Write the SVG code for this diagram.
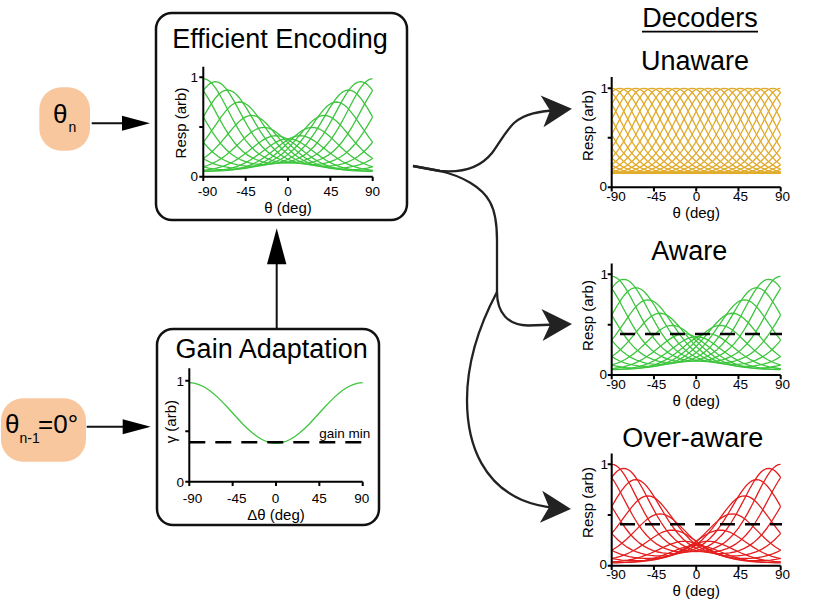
<svg xmlns="http://www.w3.org/2000/svg" width="817" height="601" viewBox="0 0 817 601">
<style>
text { font-family: "Liberation Sans", Arial, Helvetica, sans-serif; fill: #000; }
.title { font-size: 27px; text-anchor: middle; }
.tick { font-size: 13.5px; text-anchor: middle; }
.ytick { font-size: 13.5px; text-anchor: end; }
.alab { font-size: 15px; text-anchor: middle; }
.box { fill: #fff; stroke: #111; stroke-width: 2.5; }
.inp { fill: #f9c79e; }
.axis { fill: none; stroke: #000; stroke-width: 2; }
.dash { fill: none; stroke: #000; stroke-width: 2.5; stroke-dasharray: 15 10; }
.conn { fill: none; stroke: #222; stroke-width: 2.3; marker-end: url(#ah); }
.arr { fill: none; stroke: #111; stroke-width: 2; }
.green { stroke: #3dc53d; }
.gold { stroke: #e1aa28; }
.red { stroke: #e41e1e; }
</style>
<defs>
<path id="tc" fill="none" stroke-width="1.3" stroke-linejoin="round" vector-effect="non-scaling-stroke" d="M-180,-100 L-177.5,-99.6 -175,-98.5 -172.5,-96.7 -170,-94.2 -167.5,-91.1 -165,-87.5 -160,-79.3 -155,-70.1 -150,-60.9 -145,-52.1 -140,-44.1 -135,-37.1 -130,-31.3 -125,-26.5 -120,-22.7 -115,-19.8 -110,-17.6 -105,-15.9 -100,-14.8 -95,-14.2 -90,-14 -85,-14.2 -80,-14.8 -75,-15.9 -70,-17.6 -65,-19.8 -60,-22.7 -55,-26.5 -50,-31.3 -45,-37.1 -40,-44.1 -35,-52.1 -30,-60.9 -25,-70.1 -20,-79.3 -15,-87.5 -12.5,-91.1 -10,-94.2 -7.5,-96.7 -5,-98.5 -2.5,-99.6 0,-100 2.5,-99.6 5,-98.5 7.5,-96.7 10,-94.2 12.5,-91.1 15,-87.5 20,-79.3 25,-70.1 30,-60.9 35,-52.1 40,-44.1 45,-37.1 50,-31.3 55,-26.5 60,-22.7 65,-19.8 70,-17.6 75,-15.9 80,-14.8 85,-14.2 90,-14 95,-14.2 100,-14.8 105,-15.9 110,-17.6 115,-19.8 120,-22.7 125,-26.5 130,-31.3 135,-37.1 140,-44.1 145,-52.1 150,-60.9 155,-70.1 160,-79.3 165,-87.5 167.5,-91.1 170,-94.2 172.5,-96.7 175,-98.5 177.5,-99.6 180,-100"/>
<g id="aware-set">
<use href="#tc" transform="translate(-90,0) scale(1,0.98)"/>
<use href="#tc" transform="translate(-77.14,0) scale(1,0.95)"/>
<use href="#tc" transform="translate(-64.29,0) scale(1,0.867)"/>
<use href="#tc" transform="translate(-51.43,0) scale(1,0.747)"/>
<use href="#tc" transform="translate(-38.57,0) scale(1,0.613)"/>
<use href="#tc" transform="translate(-25.71,0) scale(1,0.493)"/>
<use href="#tc" transform="translate(-12.86,0) scale(1,0.41)"/>
<use href="#tc" transform="translate(0,0) scale(1,0.38)"/>
<use href="#tc" transform="translate(12.86,0) scale(1,0.41)"/>
<use href="#tc" transform="translate(25.71,0) scale(1,0.493)"/>
<use href="#tc" transform="translate(38.57,0) scale(1,0.613)"/>
<use href="#tc" transform="translate(51.43,0) scale(1,0.747)"/>
<use href="#tc" transform="translate(64.29,0) scale(1,0.867)"/>
<use href="#tc" transform="translate(77.14,0) scale(1,0.95)"/>
</g>
<clipPath id="cEE"><rect x="203.3" y="55" width="169.4" height="121.7"/></clipPath>
<clipPath id="cUn"><rect x="611.7" y="70" width="169" height="117.3"/></clipPath>
<clipPath id="cAw"><rect x="611.7" y="255" width="169" height="120"/></clipPath>
<clipPath id="cOv"><rect x="611.7" y="445" width="169" height="120.7"/></clipPath>
<marker id="ah" markerUnits="userSpaceOnUse" viewBox="-32 -20 40 40" markerWidth="40" markerHeight="40" refX="-15" refY="0" orient="auto" overflow="visible">
<path d="M0,0 L-30,-16 L-22,0 L-30,16 Z" fill="#222"/>
</marker>
<marker id="ah2" markerUnits="userSpaceOnUse" viewBox="-30 -10 40 20" markerWidth="40" markerHeight="20" refX="-20" refY="0" orient="auto" overflow="visible">
<path d="M0,0 L-28,-7.5 L-28,7.5 Z" fill="#000"/>
</marker>
<marker id="ah3" markerUnits="userSpaceOnUse" viewBox="-40 -12 50 24" markerWidth="50" markerHeight="24" refX="-25" refY="0" orient="auto" overflow="visible">
<path d="M0,0 L-36,-9.7 L-36,9.7 Z" fill="#000"/>
</marker>
</defs>
<rect width="817" height="601" fill="#fff"/>

<g id="connectors">
<path class="arr" d="M91.7,123.3 H130" marker-end="url(#ah2)"/>
<path class="arr" d="M86.7,426.7 H130.7" marker-end="url(#ah2)"/>
<path class="arr" d="M276.7,329 V253.3" marker-end="url(#ah3)"/>
<path class="conn" d="M413,166 L440,171 C462,173 480,168 492,153 C500,142 505,132 514,123 C525,113 540,111.5 557,110"/>
<path class="conn" d="M413,166 L440,171 C462,176 482,187 490,202 C496,213 497,225 497,240 L497,292 C497,313 508,325 528,325.5 L557,324.5"/>
<path class="conn" d="M497,292 C481,322 467,358 467,400 C467,450 487,485 522,500 C534,505 545,507 556,507.8"/>
</g>

<g id="node-theta-n">
<rect class="inp" x="39.3" y="87.3" width="50.7" height="63.4" rx="22"/>
<text x="53" y="123.3" font-size="26">θ</text>
<text x="68.5" y="131.5" font-size="14">n</text>
</g>

<g id="node-theta-n-1">
<rect class="inp" x="1" y="398.3" width="85" height="63.4" rx="22"/>
<text x="5" y="433.3" font-size="26">θ</text>
<text x="19.5" y="443.3" font-size="14">n-1</text>
<text x="38" y="433.3" font-size="26">=0°</text>
</g>

<g id="node-efficient-encoding">
<rect class="box" x="156" y="13" width="251" height="207" rx="16"/>
<text class="title" x="280" y="48.3">Efficient Encoding</text>
<g clip-path="url(#cEE)"><g class="green" transform="translate(288,176.7) scale(0.9411,1)"><use href="#aware-set"/></g></g>
<path class="axis" d="M203.3,66.7 V176.7 H372.7 M199.3,77.3 H203.3 M199.3,127 H203.3 M199.3,176.7 H203.3 M203.3,176.7 V181 M245.7,176.7 V181 M288,176.7 V181 M330.4,176.7 V181 M372.7,176.7 V181"/>
<text class="ytick" x="198" y="82">1</text>
<text class="ytick" x="198" y="181">0</text>
<text class="tick" x="207.5" y="195.5">-90</text>
<text class="tick" x="246" y="195.5">-45</text>
<text class="tick" x="288" y="195.5">0</text>
<text class="tick" x="331" y="195.5">45</text>
<text class="tick" x="372.5" y="195.5">90</text>
<text class="alab" x="288" y="212.5">θ (deg)</text>
<text class="alab" transform="translate(185.5,123) rotate(-90)">Resp (arb)</text>
</g>

<g id="node-gain-adaptation">
<rect class="box" x="157" y="329" width="222" height="196" rx="16"/>
<text class="title" x="271.7" y="358.3">Gain Adaptation</text>
<path class="green" fill="none" stroke-width="1.3" vector-effect="non-scaling-stroke" transform="translate(276,481.7) scale(0.9633,1.01)" d="M-90,-98 L-85,-97.5 -80,-96.2 -75,-94 -70,-91 -65,-87.3 -60,-83 -55,-78.3 -50,-73.2 -45,-68 -40,-62.8 -35,-57.7 -30,-53 -25,-48.7 -20,-45 -15,-42 -10,-39.8 -5,-38.5 0,-38 5,-38.5 10,-39.8 15,-42 20,-45 25,-48.7 30,-53 35,-57.7 40,-62.8 45,-68 50,-73.2 55,-78.3 60,-83 65,-87.3 70,-91 75,-94 80,-96.2 85,-97.5 90,-98"/>
<path class="dash" d="M189.3,442.3 H363" style="stroke-dasharray:16 10"/>
<text x="319.3" y="438.3" font-size="13.5">gain min</text>
<path class="axis" d="M189.3,368.3 V481.7 H362.7 M185.3,380.7 H189.3 M185.3,431.2 H189.3 M185.3,481.7 H189.3 M189.3,481.7 V486 M232.65,481.7 V486 M276,481.7 V486 M319.35,481.7 V486 M362.7,481.7 V486"/>
<text class="ytick" x="184" y="385.5">1</text>
<text class="ytick" x="184" y="486.5">0</text>
<text class="tick" x="192.5" y="502.5">-90</text>
<text class="tick" x="236.7" y="502.5">-45</text>
<text class="tick" x="275.5" y="502.5">0</text>
<text class="tick" x="319.2" y="502.5">45</text>
<text class="tick" x="361.7" y="502.5">90</text>
<text class="alab" x="276" y="519.5">Δθ (deg)</text>
<text class="alab" transform="translate(175.5,421.7) rotate(-90)">γ (arb)</text>
</g>

<g id="node-decoders-heading">
<text class="title" x="700" y="27">Decoders</text>
<path d="M642,31.7 H758" stroke="#000" stroke-width="1.8"/>
</g>

<g id="node-unaware">
<text class="title" x="695" y="70">Unaware</text>
<g clip-path="url(#cUn)"><g class="gold" transform="translate(696.2,187.3) scale(0.9389,0.99)">
<use href="#tc" transform="translate(-90,0)"/>
<use href="#tc" transform="translate(-81.43,0)"/>
<use href="#tc" transform="translate(-72.86,0)"/>
<use href="#tc" transform="translate(-64.29,0)"/>
<use href="#tc" transform="translate(-55.71,0)"/>
<use href="#tc" transform="translate(-47.14,0)"/>
<use href="#tc" transform="translate(-38.57,0)"/>
<use href="#tc" transform="translate(-30,0)"/>
<use href="#tc" transform="translate(-21.43,0)"/>
<use href="#tc" transform="translate(-12.86,0)"/>
<use href="#tc" transform="translate(-4.29,0)"/>
<use href="#tc" transform="translate(4.29,0)"/>
<use href="#tc" transform="translate(12.86,0)"/>
<use href="#tc" transform="translate(21.43,0)"/>
<use href="#tc" transform="translate(30,0)"/>
<use href="#tc" transform="translate(38.57,0)"/>
<use href="#tc" transform="translate(47.14,0)"/>
<use href="#tc" transform="translate(55.71,0)"/>
<use href="#tc" transform="translate(64.29,0)"/>
<use href="#tc" transform="translate(72.86,0)"/>
<use href="#tc" transform="translate(81.43,0)"/>
</g></g>
<path class="axis" d="M611.7,77 V187.3 H780.7 M607.7,88.3 H611.7 M607.7,137.8 H611.7 M607.7,187.3 H611.7 M611.7,187.3 V191.5 M653.95,187.3 V191.5 M696.2,187.3 V191.5 M738.45,187.3 V191.5 M780.7,187.3 V191.5"/>
<text class="ytick" x="608" y="93.3">1</text>
<text class="ytick" x="607" y="190.5">0</text>
<text class="tick" x="616" y="200.5">-90</text>
<text class="tick" x="656.5" y="200.5">-45</text>
<text class="tick" x="696.5" y="200.5">0</text>
<text class="tick" x="740.5" y="200.5">45</text>
<text class="tick" x="782.5" y="200.5">90</text>
<text class="alab" x="696.2" y="217.5">θ (deg)</text>
<text class="alab" transform="translate(592.5,125.5) rotate(-90)">Resp (arb)</text>
</g>

<g id="node-aware">
<text class="title" x="689.2" y="260">Aware</text>
<g clip-path="url(#cAw)"><g class="green" transform="translate(696.2,375) scale(0.9389,1.007)"><use href="#aware-set"/></g></g>
<path class="dash" d="M620,334 H782"/>
<path class="axis" d="M611.7,263.5 V375 H780.7 M607.7,274.3 H611.7 M607.7,324.65 H611.7 M607.7,375 H611.7 M611.7,375 V379.2 M653.95,375 V379.2 M696.2,375 V379.2 M738.45,375 V379.2 M780.7,375 V379.2"/>
<text class="ytick" x="608" y="279.3">1</text>
<text class="ytick" x="607" y="378.5">0</text>
<text class="tick" x="616" y="388.5">-90</text>
<text class="tick" x="656.5" y="388.5">-45</text>
<text class="tick" x="696.5" y="388.5">0</text>
<text class="tick" x="740.5" y="388.5">45</text>
<text class="tick" x="782.5" y="388.5">90</text>
<text class="alab" x="696.2" y="405.5">θ (deg)</text>
<text class="alab" transform="translate(592.5,315.5) rotate(-90)">Resp (arb)</text>
</g>

<g id="node-over-aware">
<text class="title" x="692.8" y="446.7">Over-aware</text>
<g clip-path="url(#cOv)"><g class="red" transform="translate(696.2,565.7) scale(0.9389,1.014)">
<use href="#tc" transform="translate(-90,0) scale(1,1)"/>
<use href="#tc" transform="translate(-77.14,0) scale(1,0.96)"/>
<use href="#tc" transform="translate(-64.29,0) scale(1,0.849)"/>
<use href="#tc" transform="translate(-51.43,0) scale(1,0.689)"/>
<use href="#tc" transform="translate(-38.57,0) scale(1,0.511)"/>
<use href="#tc" transform="translate(-25.71,0) scale(1,0.351)"/>
<use href="#tc" transform="translate(-12.86,0) scale(1,0.24)"/>
<use href="#tc" transform="translate(0,0) scale(1,0.2)"/>
<use href="#tc" transform="translate(12.86,0) scale(1,0.24)"/>
<use href="#tc" transform="translate(25.71,0) scale(1,0.351)"/>
<use href="#tc" transform="translate(38.57,0) scale(1,0.511)"/>
<use href="#tc" transform="translate(51.43,0) scale(1,0.689)"/>
<use href="#tc" transform="translate(64.29,0) scale(1,0.849)"/>
<use href="#tc" transform="translate(77.14,0) scale(1,0.96)"/>
</g></g>
<path class="dash" d="M620,524.3 H782"/>
<path class="axis" d="M611.7,453.5 V565.7 H780.7 M607.7,464.3 H611.7 M607.7,515 H611.7 M607.7,565.7 H611.7 M611.7,565.7 V569.9 M653.95,565.7 V569.9 M696.2,565.7 V569.9 M738.45,565.7 V569.9 M780.7,565.7 V569.9"/>
<text class="ytick" x="608" y="469.3">1</text>
<text class="ytick" x="607" y="569">0</text>
<text class="tick" x="616" y="579">-90</text>
<text class="tick" x="656.5" y="579">-45</text>
<text class="tick" x="696.5" y="579">0</text>
<text class="tick" x="740.5" y="579">45</text>
<text class="tick" x="782.5" y="579">90</text>
<text class="alab" x="696.2" y="595.8">θ (deg)</text>
<text class="alab" transform="translate(592.5,502.5) rotate(-90)">Resp (arb)</text>
</g>
</svg>
